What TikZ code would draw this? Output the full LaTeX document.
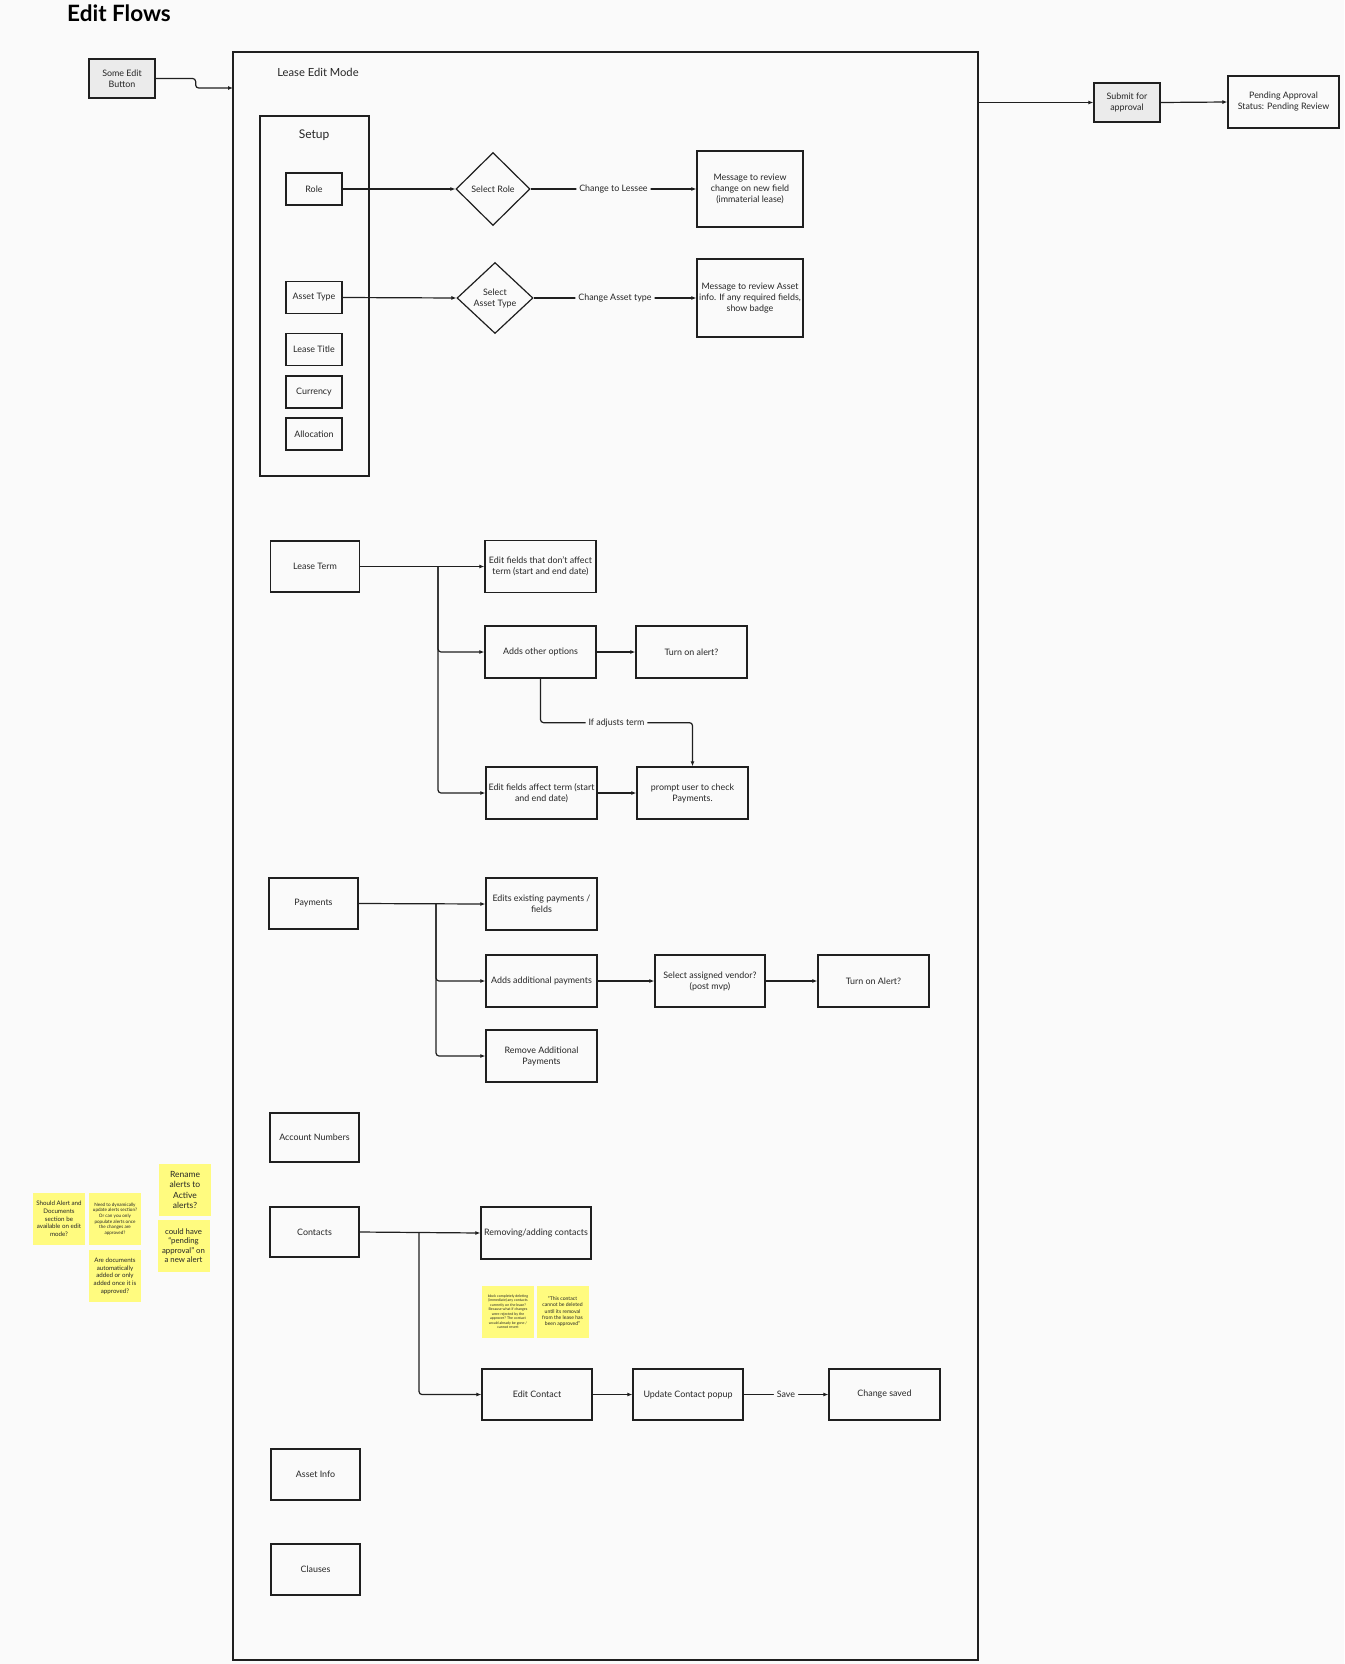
\documentclass[tikz,border=0pt]{standalone}
\usepackage{fontspec}
\setmainfont{Lato}
\usepackage{tikz}
\usetikzlibrary{positioning, shapes.geometric, arrows.meta, calc}
\definecolor{canvas}{HTML}{FAFAFA}
\definecolor{stickyyellow}{HTML}{FFFB7F}
\definecolor{btngrey}{HTML}{EBEBEB}
\definecolor{linegrey}{HTML}{1F1F1F}

\begin{document}
\begin{tikzpicture}[
    x=1pt, y=-1pt,
    flowbox/.style={draw=linegrey, line width=1.3pt, rectangle, align=center, inner sep=2pt, text=black!85, font=\fontsize{8.9}{11}\selectfont},
    smallbox/.style={flowbox, minimum width=56pt, minimum height=32pt},
    sectionbox/.style={flowbox, minimum width=89pt, minimum height=51pt},
    stepbox/.style={flowbox, minimum width=111pt, minimum height=52pt},
    btnbox/.style={flowbox, fill=btngrey, minimum width=66pt, minimum height=39pt},
    decision/.style={draw=linegrey, line width=1.2pt, diamond, align=center, inner sep=0pt, text=black!85, font=\fontsize{8.9}{11}\selectfont},
    conn/.style={draw=linegrey, line width=1.2pt, -{Latex[length=5pt,width=4pt]}, rounded corners=3pt},
    edgelabel/.style={fill=canvas, inner sep=3pt, text=black!85, font=\fontsize{8.9}{11}\selectfont},
    sticky/.style={fill=stickyyellow, minimum width=52pt, minimum height=52pt, align=center, inner sep=1pt, text=black!85}
]

    % Hintergrund
    \fill[canvas] (0,0) rectangle (1344,1664);
    \useasboundingbox (0,0) rectangle (1344,1664);

    \node[font=\fontsize{22.5}{26}\selectfont\bfseries] (title) at (119,13.5) {Edit Flows};

    % Rahmen
    \node[btnbox] (btn) at (122,78.5) {Some Edit\\Button};
    \node[draw=linegrey, line width=1.4pt, minimum width=745pt, minimum height=1608pt, inner sep=0pt] (mode) at (605.5,856) {};
    \node[font=\fontsize{11.2}{13}\selectfont, text=black!85] (modelabel) at (318,72) {Lease Edit Mode};
    \node[btnbox] (submit) at (1127,102.5) {Submit for\\approval};
    \node[flowbox, minimum width=111pt, minimum height=52pt] (pending) at (1283.5,102) {Pending Approval\\Status: Pending Review};
    \coordinate (modein) at (233,88);

    % Setup
    \node[flowbox, minimum width=109pt, minimum height=360pt] (setup) at (314.5,296) {};
    \node[font=\fontsize{12}{14}\selectfont, text=black!85] (setuplabel) at (314,135) {Setup};
    \node[smallbox] (role) at (314,189) {Role};
    \node[smallbox] (assettype) at (314,297.5) {Asset Type};
    \node[smallbox] (leasetitle) at (314,349.5) {Lease Title};
    \node[smallbox] (currency) at (314,392) {Currency};
    \node[smallbox] (allocation) at (314,434) {Allocation};
    \node[decision, minimum width=74pt, minimum height=73pt] (selrole) at (493,189) {Select Role};
    \node[decision, minimum width=76pt, minimum height=71pt] (selasset) at (495,298) {Select\\Asset Type};
    \node[flowbox, minimum width=106pt, minimum height=76pt] (msgrole) at (750,189) {Message to review\\change on new field\\(immaterial lease)};
    \node[flowbox, minimum width=106pt, minimum height=78pt] (msgasset) at (750,298) {Message to review Asset\\info. If any required fields,\\show badge};

    % Lease Term
    \node[sectionbox] (leaseterm) at (315,566.5) {Lease Term};
    \node[stepbox] (nonterm) at (540.5,566.5) {Edit fields that don't affect\\term (start and end date)};
    \node[stepbox] (options) at (540.5,652) {Adds other options};
    \node[stepbox] (alertone) at (691.5,652) {Turn on alert?};
    \node[stepbox] (affect) at (541.5,793) {Edit fields affect term (start\\and end date)};
    \node[stepbox] (prompt) at (692.5,793) {prompt user to check\\Payments.};
    \coordinate (termfork) at (438,566.5);

    % Payments
    \node[sectionbox] (payments) at (313.5,903.5) {Payments};
    \node[stepbox] (editpay) at (541.5,904) {Edits existing payments /\\fields};
    \node[stepbox] (addpay) at (541.5,981) {Adds additional payments};
    \node[stepbox] (rempay) at (541.5,1056) {Remove Additional\\Payments};
    \node[stepbox, minimum width=110pt] (vendor) at (710,981) {Select assigned vendor?\\(post mvp)};
    \node[stepbox] (alerttwo) at (873.5,981) {Turn on Alert?};
    \coordinate (payfork) at (436,903.5);

    % Contacts und Rest
    \node[sectionbox, minimum height=49pt] (accnum) at (314.5,1137.5) {Account Numbers};
    \node[sectionbox, minimum height=50pt] (contacts) at (314.5,1232) {Contacts};
    \node[stepbox, minimum width=110pt] (remcontacts) at (536,1233) {Removing/adding contacts};
    \node[stepbox, minimum width=110pt, minimum height=51pt] (editcontact) at (537,1394.5) {Edit Contact};
    \node[stepbox, minimum width=110pt, minimum height=51pt] (popup) at (688,1394.5) {Update Contact popup};
    \node[stepbox, minimum height=51pt] (saved) at (884.5,1394.5) {Change saved};
    \node[sectionbox] (assetinfo) at (315.5,1474.5) {Asset Info};
    \node[sectionbox] (clauses) at (315.5,1569.5) {Clauses};
    \coordinate (contactfork) at (419,1232);

    % Notizen
    \node[sticky, font=\fontsize{3.6}{4.5}\selectfont] (blocknote) at (508,1311.5) {block completely deleting\\(immediate) any contacts\\currently on the lease?\\Because what if changes\\were rejected by the\\approver? The contact\\would already be gone /\\cannot revert};
    \node[sticky, font=\fontsize{5.1}{6.3}\selectfont] (contactnote) at (562.5,1311.5) {“This contact\\cannot be deleted\\until its removal\\from the lease has\\been approved”};
    \node[sticky, font=\fontsize{6.2}{7.7}\selectfont] (alertnote) at (59,1219) {Should Alert and\\Documents\\section be\\available on edit\\mode?};
    \node[sticky, font=\fontsize{4.6}{5.7}\selectfont] (dynnote) at (115,1219) {Need to dynamically\\update alerts section?\\Or can you only\\populate alerts once\\the changes are\\approved?};
    \node[sticky, font=\fontsize{6.2}{7.7}\selectfont] (docnote) at (115,1276) {Are documents\\automatically\\added or only\\added once it is\\approved?};
    \node[sticky, font=\fontsize{8.5}{10.3}\selectfont] (renamenote) at (185,1190) {Rename\\alerts to\\Active\\alerts?};
    \node[sticky, font=\fontsize{7.8}{9.3}\selectfont] (pendnote) at (183.5,1245.5) {could have\\“pending\\approval” on\\a new alert};

    % Kanten
    \draw[conn] (btn.east) -- ++(40,0) |- (modein);
    \draw[conn] (mode.east |- submit.west) -- (submit.west);
    \draw[conn] (submit.east) -- (pending.west);

    \draw[conn] (role.east) -- (selrole.west);
    \draw[conn] (selrole.east) -- node[edgelabel] {Change to Lessee} (msgrole.west);
    \draw[conn] (assettype.east) -- (selasset.west);
    \draw[conn] (selasset.east) -- node[edgelabel] {Change Asset type} (msgasset.west);

    \draw[conn] (leaseterm.east) -- (nonterm.west);
    \draw[conn] (termfork) |- (options.west);
    \draw[conn] (termfork) |- (affect.west);
    \draw[conn] (options.east) -- (alertone.west);
    \draw[conn] (options.south) -- ++(0,44) -| node[edgelabel, pos=0.25] {If adjusts term} (prompt.north);
    \draw[conn] (affect.east) -- (prompt.west);

    \draw[conn] (payments.east) -- (editpay.west);
    \draw[conn] (payfork) |- (addpay.west);
    \draw[conn] (payfork) |- (rempay.west);
    \draw[conn] (addpay.east) -- (vendor.west);
    \draw[conn] (vendor.east) -- (alerttwo.west);

    \draw[conn] (contacts.east) -- (remcontacts.west);
    \draw[conn] (contactfork) |- (editcontact.west);
    \draw[conn] (editcontact.east) -- (popup.west);
    \draw[conn] (popup.east) -- node[edgelabel] {Save} (saved.west);

\end{tikzpicture}
\end{document}
